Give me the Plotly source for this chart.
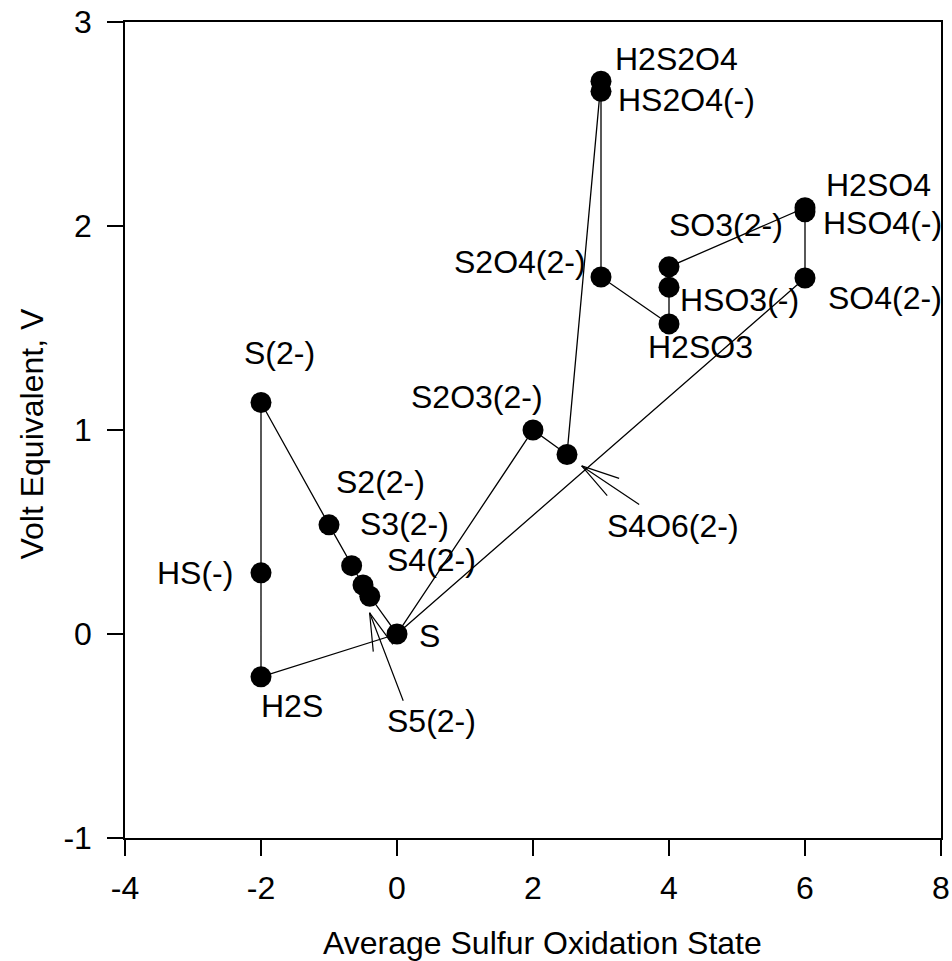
import math
import plotly.graph_objects as go

# ---------------- data ----------------
species = ["H2S", "HS(-)", "S(2-)", "S2(2-)", "S3(2-)", "S4(2-)", "S5(2-)", "S",
           "S2O3(2-)", "S4O6(2-)", "H2S2O4", "HS2O4(-)", "S2O4(2-)",
           "H2SO3", "HSO3(-)", "SO3(2-)", "H2SO4", "HSO4(-)", "SO4(2-)"]
ox_state = [-2, -2, -2, -1, -0.667, -0.5, -0.4, 0,
            2, 2.5, 3, 3, 3,
            4, 4, 4, 6, 6, 6]
volt_eq = [-0.21, 0.30, 1.135, 0.535, 0.335, 0.24, 0.185, 0.0,
           1.00, 0.88, 2.71, 2.66, 1.75,
           1.52, 1.70, 1.80, 2.09, 2.07, 1.745]

# order in which the species are joined by the line
path_order = ["S", "H2S", "HS(-)", "S(2-)", "S2(2-)", "S3(2-)", "S4(2-)", "S5(2-)", "S",
              "S2O3(2-)", "S4O6(2-)", "H2S2O4", "HS2O4(-)", "S2O4(2-)",
              "H2SO3", "HSO3(-)", "SO3(2-)", "H2SO4", "HSO4(-)", "SO4(2-)", "S"]

x_ticks = [-4, -2, 0, 2, 4, 6, 8]
y_ticks = [-1, 0, 1, 2, 3]

# label placement (style): xanchor, xshift px, yshift px
label_style = {
    "H2S": ("left", -2, -29),
    "HS(-)": ("right", -26, 0),
    "S(2-)": ("center", 18, 49),
    "S2(2-)": ("left", 5, 43),
    "S3(2-)": ("left", 6, 42),
    "S4(2-)": ("left", 22, 25),
    "S5(2-)": ("left", 15, -125),
    "S": ("left", 20, -2),
    "S2O3(2-)": ("right", 12, 33),
    "S4O6(2-)": ("left", 38, -72),
    "H2S2O4": ("left", 12, 22),
    "HS2O4(-)": ("left", 15, -9),
    "S2O4(2-)": ("right", -13, 15),
    "H2SO3": ("center", 31, -23),
    "HSO3(-)": ("left", 9, -13),
    "SO3(2-)": ("left", -2, 42),
    "H2SO4": ("left", 19, 23),
    "HSO4(-)": ("left", 16, -11),
    "SO4(2-)": ("left", 21, -20),
}

# pointer arrows: tip (data) and tail offset (px)
arrow_tips = {"S5(2-)": (-0.403, 0.104), "S4O6(2-)": (2.716, 0.824)}
arrow_tails = {"S5(2-)": (34, 89), "S4O6(2-)": (58, 39)}

FONT = "Liberation Sans, Arial, sans-serif"
FS = 32

idx = {s: i for i, s in enumerate(species)}
path_x = [ox_state[idx[s]] for s in path_order]
path_y = [volt_eq[idx[s]] for s in path_order]

fig = go.Figure()
fig.add_trace(go.Scatter(x=path_x, y=path_y, mode="lines",
                         line=dict(color="black", width=1.3),
                         hoverinfo="skip", showlegend=False))
fig.add_trace(go.Scatter(x=ox_state, y=volt_eq, mode="markers",
                         marker=dict(color="black", size=21, line=dict(width=0)),
                         text=species, showlegend=False))

annotations = []
for s in species:
    xa, xs, ys = label_style[s]
    annotations.append(dict(x=ox_state[idx[s]], y=volt_eq[idx[s]], xref="x", yref="y",
                            text=s, showarrow=False, xanchor=xa, yanchor="middle",
                            xshift=xs, yshift=ys,
                            font=dict(family=FONT, size=FS, color="black")))

WING_LEN = 40
WING_ANG = math.radians(15.5)
for key, (tx, ty) in arrow_tips.items():
    ax, ay = arrow_tails[key]
    ang = math.atan2(ay, ax)
    segs = [(ax, ay)]
    for sgn in (-1, 1):
        a = ang + sgn * WING_ANG
        segs.append((WING_LEN * math.cos(a), WING_LEN * math.sin(a)))
    for (dx, dy) in segs:
        annotations.append(dict(x=tx, y=ty, xref="x", yref="y", text=" ",
                                showarrow=True, arrowhead=0, arrowwidth=1.2,
                                arrowcolor="black", ax=dx, ay=dy, standoff=0,
                                borderpad=0, font=dict(size=1)))

# axis titles
annotations.append(dict(x=0.512, y=-0.129, xref="paper", yref="paper",
                        text="Average Sulfur Oxidation State", showarrow=False,
                        xanchor="center", yanchor="middle",
                        font=dict(family=FONT, size=FS, color="black")))
annotations.append(dict(x=-0.1134, y=0.495, xref="paper", yref="paper",
                        text="Volt Equivalent, V", showarrow=False, textangle=-90,
                        xanchor="center", yanchor="middle",
                        font=dict(family=FONT, size=FS, color="black")))

axis_common = dict(showgrid=False, zeroline=False, showline=True, linecolor="black",
                   linewidth=1.5, mirror=True, ticks="outside", ticklen=16,
                   tickwidth=1.5, tickcolor="black", automargin=False,
                   tickfont=dict(family=FONT, size=FS, color="black"))

fig.update_xaxes(range=[-4, 8], tickvals=x_ticks, ticktext=[str(v) for v in x_ticks],
                 ticklabelstandoff=5, **axis_common)
fig.update_yaxes(range=[-1, 3], tickvals=y_ticks, ticktext=[str(v) for v in y_ticks],
                 ticklabelstandoff=9, **axis_common)

fig.update_layout(width=952, height=961,
                  margin=dict(l=125, r=11, t=22, b=123),
                  paper_bgcolor="white", plot_bgcolor="white",
                  annotations=annotations, showlegend=False)

fig.write_html("out.html")
